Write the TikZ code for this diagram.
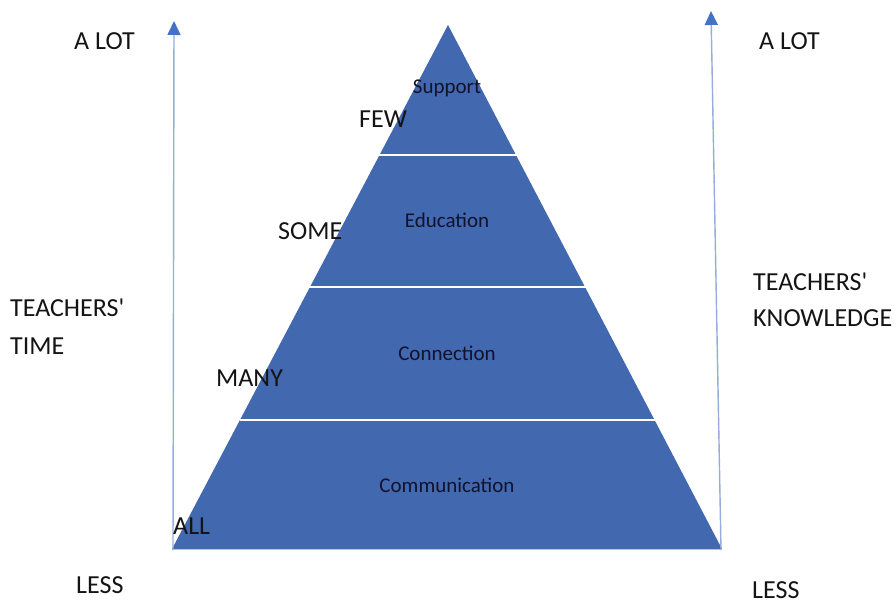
\documentclass[tikz,border=0pt]{standalone}
\usepackage{fontspec}
\setmainfont{Carlito}
\usetikzlibrary{arrows.meta}
\definecolor{pyr}{RGB}{66,104,176}
\definecolor{axis}{RGB}{150,172,218}
\definecolor{tip}{RGB}{68,114,196}
\definecolor{ink}{RGB}{20,20,20}
\tikzset{
  big/.style={font=\fontsize{26}{30}\selectfont, text=ink, inner sep=0pt},
  small/.style={font=\fontsize{21}{25}\selectfont, text=ink!90!blue, inner sep=0pt},
  axisline/.style={draw=axis, line width=1.4pt, -{Triangle[width=13pt,length=14pt,fill=tip,color=tip]}},
  divider/.style={draw=white, line width=2.5pt}
}
\begin{document}
\begin{tikzpicture}[x=1pt,y=-1pt]
\useasboundingbox (0,0) rectangle (896,604);
% pyramid
\fill[pyr] (448,25) -- (722,549) -- (172,549) -- cycle;
\draw[axis!70, line width=0.8pt] (172,549) -- (722,549);
\coordinate (d1l) at (378,155); \coordinate (d1r) at (518,155);
\coordinate (d2l) at (309,287); \coordinate (d2r) at (587,287);
\coordinate (d3l) at (240,420); \coordinate (d3r) at (656,420);
\draw[divider] (d1l) -- (d1r);
\draw[divider] (d2l) -- (d2r);
\draw[divider] (d3l) -- (d3r);
% axes
\coordinate (la0) at (173,550); \coordinate (la1) at (174,21);
\coordinate (ra0) at (721,550); \coordinate (ra1) at (711,11);
\draw[axisline] (la0) -- (la1);
\draw[axisline] (ra0) -- (ra1);
% level labels
\node[small] (sup) at (447,88) {Support};
\node[small] (edu) at (447,220) {Education};
\node[small] (con) at (447,353) {Connection};
\node[small] (com) at (447,485) {Communication};
% side labels
\node[big, anchor=west] (few) at (359,119) {FEW};
\node[big, anchor=west] (some) at (278,231) {SOME};
\node[big, anchor=west] (many) at (216,378) {MANY};
\node[big, anchor=west] (all) at (173,526) {ALL};
\node[big, anchor=west] (alotl) at (74,41) {A LOT};
\node[big, anchor=west] (alotr) at (759,41) {A LOT};
\node[big, anchor=west] (ttl) at (10,308) {TEACHERS\textquotesingle};
\node[big, anchor=west] (tml) at (10,346) {TIME};
\node[big, anchor=west] (ttr) at (753,282) {TEACHERS\textquotesingle};
\node[big, anchor=west] (tkr) at (753,318) {KNOWLEDGE};
\node[big, anchor=west] (lessl) at (76,585) {LESS};
\node[big, anchor=west] (lessr) at (752,590) {LESS};
\end{tikzpicture}
\end{document}
